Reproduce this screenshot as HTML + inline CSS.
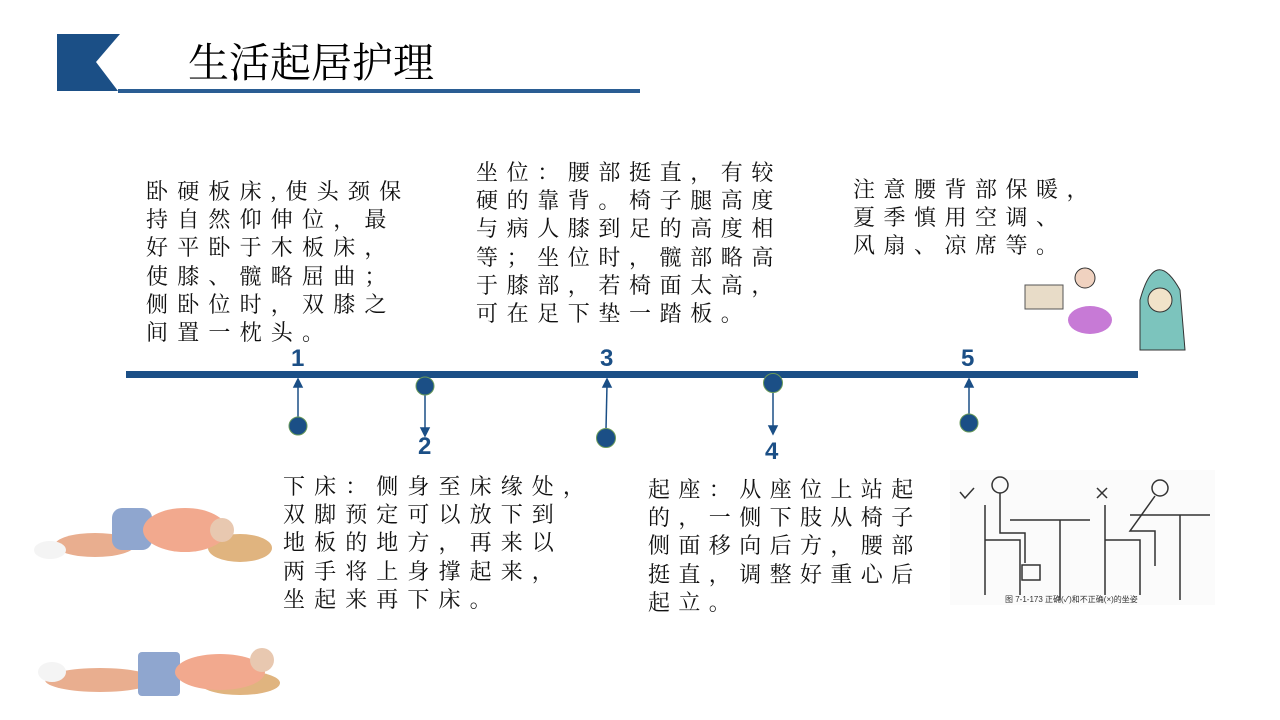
<!DOCTYPE html>
<html><head><meta charset="utf-8"><style>
body{margin:0;width:1280px;height:720px;background:#fff;position:relative;overflow:hidden;font-family:"Liberation Serif","Noto Serif CJK SC","Noto Sans CJK SC",serif;}
.t{position:absolute;font-size:22px;line-height:28.2px;color:#111;white-space:nowrap;}
.n{position:absolute;font-family:"Liberation Sans",sans-serif;font-weight:bold;font-size:24px;color:#1b4f86;}
svg{position:absolute;left:0;top:0}
</style></head><body>
<svg width="1280" height="720">
<polygon points="57,34 120,34 96,62 118,91 57,91" fill="#1b4f86"/>
<rect x="118" y="89" width="522" height="4" fill="#2a5d93"/>
<rect x="126" y="371" width="1012" height="7" fill="#1b4f86"/>
<g stroke="#1b4f86" stroke-width="1.5" fill="#1b4f86">
<line x1="298" y1="417" x2="298" y2="385"/><polygon points="294,387 302,387 298,379"/>
<line x1="425" y1="395" x2="425" y2="430"/><polygon points="421,428 429,428 425,436"/>
<line x1="606" y1="429" x2="607" y2="385"/><polygon points="603,387 611,387 607,379"/>
<line x1="773" y1="392" x2="773" y2="428"/><polygon points="769,426 777,426 773,434"/>
<line x1="969" y1="414" x2="969" y2="385"/><polygon points="965,387 973,387 969,379"/>
</g>
<g fill="#1b4f86" stroke="#6a9a5a" stroke-width="1">
<circle cx="298" cy="426" r="9"/><circle cx="425" cy="386" r="9"/><circle cx="606" cy="438" r="9.5"/><circle cx="773" cy="383" r="9.5"/><circle cx="969" cy="423" r="9"/>
</g>
<g>
<ellipse cx="240" cy="548" rx="32" ry="14" fill="#e0b47f"/>
<ellipse cx="95" cy="545" rx="40" ry="12" fill="#e9ae8f"/>
<rect x="112" y="508" width="40" height="42" rx="10" fill="#8fa6cf"/>
<ellipse cx="185" cy="530" rx="42" ry="22" fill="#f2a98e"/>
<circle cx="222" cy="530" r="12" fill="#e8c8b0"/>
<ellipse cx="50" cy="550" rx="16" ry="9" fill="#f4f4f4"/>
<ellipse cx="240" cy="683" rx="40" ry="12" fill="#e0b47f"/>
<ellipse cx="100" cy="680" rx="55" ry="12" fill="#e9ae8f"/>
<rect x="138" y="652" width="42" height="44" rx="4" fill="#8fa6cf"/>
<ellipse cx="220" cy="672" rx="45" ry="18" fill="#f2a98e"/>
<circle cx="262" cy="660" r="12" fill="#e8c8b0"/>
<ellipse cx="52" cy="672" rx="14" ry="10" fill="#f4f4f4"/>
</g>
<g>
<rect x="1025" y="285" width="38" height="24" fill="#e8dcc8" stroke="#555"/>
<ellipse cx="1090" cy="320" rx="22" ry="14" fill="#c77ad6"/>
<circle cx="1085" cy="278" r="10" fill="#f0d2c0" stroke="#333"/>
<path d="M1140 300 q15 -55 40 -10 l5 60 h-45z" fill="#7cc4bd" stroke="#333"/>
<circle cx="1160" cy="300" r="12" fill="#f1e3c9" stroke="#333"/>
</g>
<g stroke="#333" fill="none" stroke-width="1.5">
<rect x="950" y="470" width="265" height="135" fill="#fbfbfb" stroke="none"/>
<path d="M985 505 v90 M985 540 h35 v55 M1010 520 h80 M1060 520 v80"/>
<circle cx="1000" cy="485" r="8"/>
<path d="M1000 493 v40 h25 v30"/>
<rect x="1022" y="565" width="18" height="15"/>
<path d="M1105 505 v90 M1105 540 h35 v55 M1130 515 h80 M1180 515 v85"/>
<circle cx="1160" cy="488" r="8"/>
<path d="M1155 496 l-25 35 h25 v35"/>
<path d="M960 492 l5 6 l9 -10 M1097 488 l10 10 M1107 488 l-10 10"/>
</g>
<text x="1005" y="602" font-size="8" fill="#333" font-family="Liberation Sans,Noto Sans CJK SC,sans-serif">图 7-1-173  正确(✓)和不正确(×)的坐姿</text>
</svg>
<div class="t" style="left:188px;top:37px;font-size:41px;line-height:52px;color:#000;">生活起居护理</div>
<div class="t" style="left:146px;top:178px;letter-spacing:9.2px">卧硬板床,使头颈保<br>持自然仰伸位，最<br>好平卧于木板床，<br>使膝、髋略屈曲；<br>侧卧位时，双膝之<br>间置一枕头。</div>
<div class="t" style="left:476px;top:159px;letter-spacing:8.6px">坐位：腰部挺直，有较<br>硬的靠背。椅子腿高度<br>与病人膝到足的高度相<br>等；坐位时，髋部略高<br>于膝部，若椅面太高，<br>可在足下垫一踏板。</div>
<div class="t" style="left:853px;top:176px;letter-spacing:8.5px">注意腰背部保暖，<br>夏季慎用空调、<br>风扇、凉席等。</div>
<div class="t" style="left:283px;top:473px;letter-spacing:9.1px">下床：侧身至床缘处，<br>双脚预定可以放下到<br>地板的地方，再来以<br>两手将上身撑起来，<br>坐起来再下床。</div>
<div class="t" style="left:648px;top:476px;letter-spacing:8.4px">起座：从座位上站起<br>的，一侧下肢从椅子<br>侧面移向后方，腰部<br>挺直，调整好重心后<br>起立。</div>
<div class="n" style="left:291px;top:345px">1</div>
<div class="n" style="left:418px;top:433px">2</div>
<div class="n" style="left:600px;top:345px">3</div>
<div class="n" style="left:765px;top:438px">4</div>
<div class="n" style="left:961px;top:345px">5</div>
</body></html>
